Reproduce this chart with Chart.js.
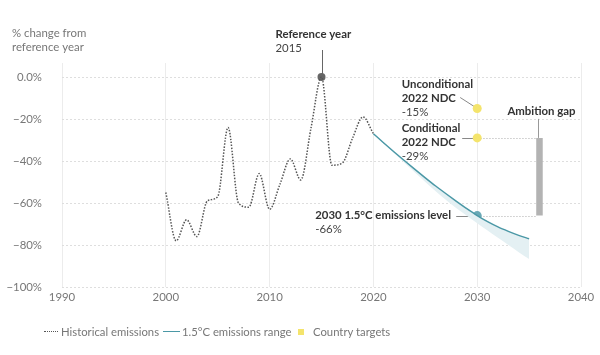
<!DOCTYPE html>
<html>
<head>
<meta charset="utf-8">
<script src="https://cdn.jsdelivr.net/npm/chart.js@4.4.0/dist/chart.umd.min.js"></script>
<style>
  html, body { margin: 0; padding: 0; background: #fff; }
  #wrap { position: relative; width: 600px; height: 355px; font-family: Lato, "Noto Sans", sans-serif; }
  #c { position: absolute; left: 0; top: 0; }
  .lg { position: absolute; top: 324px; font-size: 11.3px; color: #777; line-height: 15px; white-space: nowrap; }
  .mk { position: absolute; }
</style>
</head>
<body>
<div id="wrap">
  <canvas id="c" width="600" height="355"></canvas>
  <div class="mk" style="left:44px; top:331px; width:14px; border-top:1.5px dotted #555;"></div>
  <div class="lg" style="left:61px;">Historical emissions</div>
  <div class="mk" style="left:163px; top:331px; width:17px; border-top:1.5px solid #4b98a6;"></div>
  <div class="lg" style="left:182px;">1.5°C emissions range</div>
  <div class="mk" style="left:298px; top:329px; width:6px; height:6px; background:#f4e46c;"></div>
  <div class="lg" style="left:313px;">Country targets</div>
</div>
<script>
// ---- data ----
const historicalYears = [2000,2001,2002,2003,2004,2005,2006,2007,2008,2009,2010,2011,2012,2013,2014,2015,2016,2017,2018,2019,2020];
const historicalValues = [-55,-78,-68,-76,-59,-57,-24,-60,-62,-46,-63,-51,-39,-49,-24,0,-42,-41,-29,-19,-27];
const pathwayYears = [2020,2021,2022,2023,2024,2025,2026,2027,2028,2029,2030,2031,2032,2033,2034,2035];
const pathwayUpper = [-27,-31.4,-35.7,-39.9,-44,-48,-51.9,-55.6,-59.2,-62.7,-66,-68.9,-71.4,-73.5,-75.4,-77];
const pathwayLower = [-27,-31.7,-36.3,-40.9,-45.5,-50,-54.4,-58.6,-62.5,-66.1,-69.6,-73.1,-76.6,-80,-83.4,-86.7];
const referenceYear = 2015;
const referenceValue = 0;
const targetYear = 2030;
const unconditionalNDC = -15;
const conditionalNDC = -29;
const pathway2030 = -66;
const gapYear = 2036;
const xTicks = [1990, 2000, 2010, 2020, 2030, 2040];
const yTicks = [0, -20, -40, -60, -80, -100];

const toPts = (xs, ys) => xs.map((x, i) => ({ x: x, y: ys[i] }));

const FONT = 'Lato, "Noto Sans", sans-serif';
const FS = 11.4;

const annot = {
  id: 'annot',
  beforeDatasetsDraw(chart) {
    const { ctx, scales: { x, y } } = chart;
    const px = x.getPixelForValue(targetYear);
    const gx = x.getPixelForValue(gapYear);
    ctx.save();
    ctx.strokeStyle = '#c8c8c8';
    ctx.lineWidth = 1;
    ctx.setLineDash([1.5, 1.5]);
    [conditionalNDC, pathway2030].forEach(v => {
      const py = Math.round(y.getPixelForValue(v)) + 0.5;
      ctx.beginPath(); ctx.moveTo(px, py); ctx.lineTo(gx - 3, py); ctx.stroke();
    });
    ctx.setLineDash([]);
    const rx = Math.round(x.getPixelForValue(referenceYear)) + 0.5;
    const ry = y.getPixelForValue(referenceValue);
    ctx.strokeStyle = '#666';
    ctx.beginPath(); ctx.moveTo(rx, ry - 27); ctx.lineTo(rx, ry - 3); ctx.stroke();
    ctx.strokeStyle = '#888';
    const uy = y.getPixelForValue(unconditionalNDC);
    ctx.beginPath(); ctx.moveTo(px - 17, uy - 11); ctx.lineTo(px - 3, uy - 2); ctx.stroke();
    const cy = Math.round(y.getPixelForValue(conditionalNDC)) + 0.5;
    ctx.beginPath(); ctx.moveTo(px - 15, cy); ctx.lineTo(px - 3, cy); ctx.stroke();
    const ly = Math.round(y.getPixelForValue(pathway2030)) + 0.5;
    ctx.beginPath(); ctx.moveTo(px - 21, ly); ctx.lineTo(px - 3, ly); ctx.stroke();
    const gy = y.getPixelForValue(conditionalNDC);
    const gxx = Math.round(gx) - 0.5;
    ctx.strokeStyle = '#999';
    ctx.beginPath(); ctx.moveTo(gxx, gy - 19); ctx.lineTo(gxx, gy); ctx.stroke();
    ctx.restore();
  },
  afterDatasetsDraw(chart) {
    const { ctx, scales: { x, y } } = chart;
    ctx.save();
    ctx.textBaseline = 'middle';
    const bold = (t, tx, ty, align) => { ctx.font = 'bold ' + FS + 'px ' + FONT; ctx.fillStyle = '#333'; ctx.textAlign = align || 'left'; ctx.fillText(t, tx, ty); };
    const reg = (t, tx, ty, align) => { ctx.font = FS + 'px ' + FONT; ctx.fillStyle = '#444'; ctx.textAlign = align || 'left'; ctx.fillText(t, tx, ty); };
    ctx.font = FS + 'px ' + FONT; ctx.fillStyle = '#777'; ctx.textAlign = 'left';
    ctx.fillText('% change from', 12, 33);
    ctx.fillText('reference year', 12, 47);
    const rx = x.getPixelForValue(referenceYear);
    const ry = y.getPixelForValue(referenceValue);
    bold('Reference year', rx - 46, ry - 43);
    reg('2015', rx - 46, ry - 29);
    const px = x.getPixelForValue(targetYear);
    const uy = y.getPixelForValue(unconditionalNDC);
    bold('Unconditional', px - 75.5, uy - 24.5);
    bold('2022 NDC', px - 75.5, uy - 10.5);
    reg('-15%', px - 75.5, uy + 3.5);
    const cy = y.getPixelForValue(conditionalNDC);
    bold('Conditional', px - 75.5, cy - 10);
    bold('2022 NDC', px - 75.5, cy + 4);
    reg('-29%', px - 75.5, cy + 18);
    const ly = y.getPixelForValue(pathway2030);
    bold('2030 1.5°C emissions level', px - 162, ly);
    reg('-66%', px - 162, ly + 14);
    const gx = x.getPixelForValue(gapYear);
    bold('Ambition gap', gx + 2, cy - 27, 'center');
    ctx.restore();
  }
};

new Chart(document.getElementById('c'), {
  type: 'line',
  data: {
    datasets: [
      { label: 'Historical emissions', data: toPts(historicalYears, historicalValues), borderColor: '#555', borderWidth: 1.5, borderDash: [1.5, 1.5], pointRadius: 0, cubicInterpolationMode: 'monotone', fill: false },
      { label: '1.5°C emissions range', data: toPts(pathwayYears, pathwayUpper), borderColor: '#4b98a6', borderWidth: 1.5, pointRadius: 0, cubicInterpolationMode: 'monotone', fill: false },
      { label: 'range lower', data: toPts(pathwayYears, pathwayLower), borderColor: 'rgba(0,0,0,0)', borderWidth: 0, pointRadius: 0, cubicInterpolationMode: 'monotone', fill: 1, backgroundColor: '#e4f0f3' },
      { label: 'Ambition gap', data: [{ x: gapYear, y: conditionalNDC }, { x: gapYear, y: pathway2030 }], borderColor: '#b3b3b3', borderWidth: 6.5, borderCapStyle: 'butt', pointRadius: 0, fill: false },
      { label: 'Reference', data: [{ x: referenceYear, y: referenceValue }], showLine: false, pointRadius: 4, pointBackgroundColor: '#666', pointBorderWidth: 0 },
      { label: 'Country targets', data: [{ x: targetYear, y: unconditionalNDC }, { x: targetYear, y: conditionalNDC }], showLine: false, pointRadius: 4.5, pointBackgroundColor: '#f4e46c', pointBorderWidth: 0 },
      { label: '2030 level', data: [{ x: targetYear, y: pathway2030 }], showLine: false, pointRadius: 4.5, pointBackgroundColor: '#6aa9b6', pointBorderWidth: 0 }
    ]
  },
  options: {
    responsive: false,
    animation: false,
    layout: { padding: { top: 63, right: 19, left: 0, bottom: 0 } },
    plugins: { legend: { display: false }, tooltip: { enabled: false } },
    scales: {
      x: {
        type: 'linear', min: 1990, max: 2040,
        afterBuildTicks: s => { s.ticks = xTicks.map(v => ({ value: v })); },
        afterFit: s => { s.height = 68; },
        ticks: { callback: v => String(v), color: '#777', font: { family: FONT, size: FS }, padding: 3, maxRotation: 0 },
        grid: { color: '#ececec', drawTicks: false },
        border: { display: false }
      },
      y: {
        min: -100, max: 6.67,
        afterBuildTicks: s => { s.ticks = yTicks.map(v => ({ value: v })); },
        afterFit: s => { s.width = 62; },
        ticks: { callback: v => v === 0 ? '0.0%' : '\u2212' + Math.abs(v) + '%', color: '#777', font: { family: FONT, size: FS }, padding: 20 },
        grid: { color: '#dedede', drawTicks: false },
        border: { display: false, dash: [2, 2] }
      }
    }
  },
  plugins: [annot]
});
</script>
</body>
</html>
